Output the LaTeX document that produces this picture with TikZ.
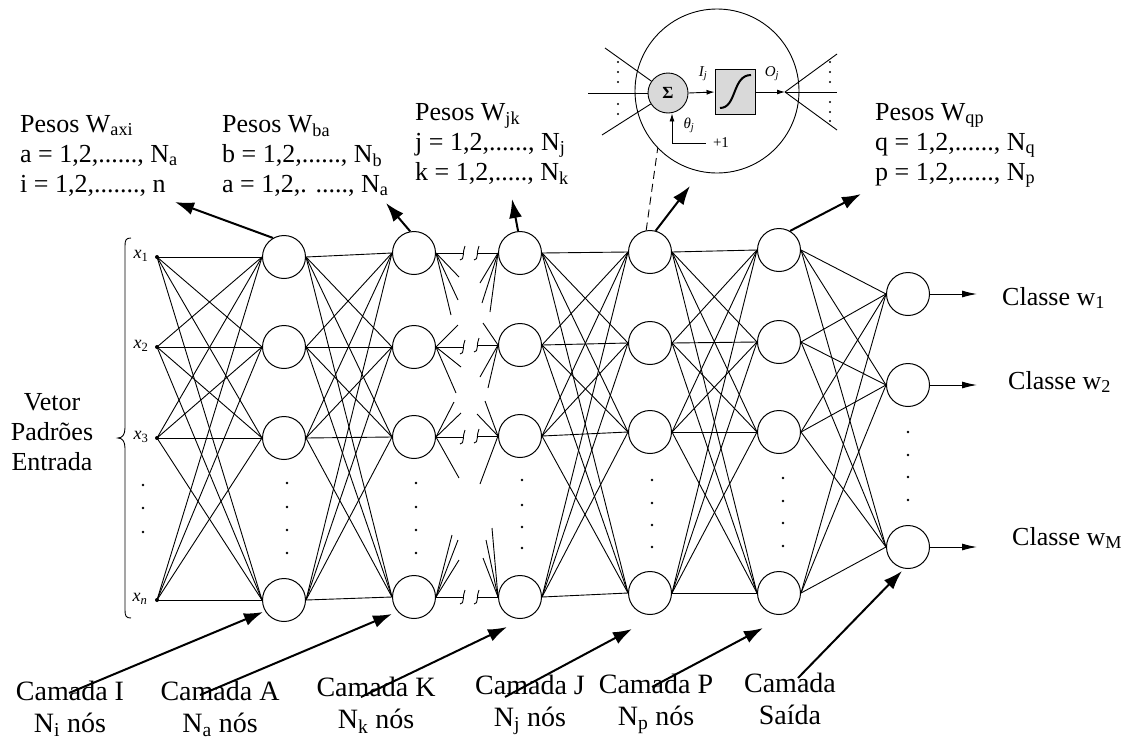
\documentclass[tikz,border=0pt]{standalone}
\usepackage{fontspec}
\setmainfont{Liberation Serif}
\usetikzlibrary{arrows.meta}
\begin{document}
\begin{tikzpicture}[x=1pt,y=-1pt,
  neuron/.style={circle,draw,line width=1pt,minimum size=43pt,inner sep=0pt},
  inpt/.style={circle,fill,inner sep=0pt,minimum size=4pt},
  net/.style={line width=0.9pt},
  dotm/.style={circle,fill,inner sep=0pt,minimum size=2.6pt},
  big/.style={line width=2pt,-{Latex[length=19pt,width=13pt]}},
  outarr/.style={line width=1pt,-{Latex[length=15pt,width=7pt]}},
  small/.style={line width=0.9pt,-{Latex[length=8pt,width=5pt]}},
  txt/.style={font=\fontsize{26}{30}\selectfont,inner sep=0pt},
  xlab/.style={font=\fontsize{18}{18}\selectfont\itshape,inner sep=0pt},
  ilab/.style={font=\fontsize{15}{15}\selectfont\itshape,inner sep=0pt},
  blk/.style={txt,anchor=north west,align=left},
  cam/.style={font=\fontsize{28}{32}\selectfont,inner sep=0pt,align=center},
]
\useasboundingbox (0,0) rectangle (1127,742);

% ---------- input points ----------
\foreach \n/\y in {1/257,2/347,3/438,4/600}
  \node[inpt] (I\n) at (157,\y) {};
\node[xlab] at (141,256) {x\textsubscript{\upshape 1}};
\node[xlab] at (141,346) {x\textsubscript{\upshape 2}};
\node[xlab] at (141,437) {x\textsubscript{\upshape 3}};
\node[xlab] at (140,599) {x\textsubscript{n}};
\foreach \y in {485,508,532} \node[dotm] at (143,\y) {};

% ---------- layers ----------
\foreach \n/\y in {1/257,2/347,3/438,4/600} \node[neuron] (A\n) at (284,\y) {};
\foreach \n/\y in {1/253,2/347,3/437,4/597} \node[neuron] (B\n) at (414,\y) {};
\foreach \n/\y in {1/253,2/345,3/436,4/597} \node[neuron] (C\n) at (520,\y) {};
\foreach \n/\y in {1/252,2/343,3/432,4/593} \node[neuron] (D\n) at (650,\y) {};
\foreach \n/\y in {1/250,2/342,3/432,4/593} \node[neuron] (E\n) at (779,\y) {};
\foreach \n/\y in {1/294,2/385,3/547} \node[neuron] (O\n) at (908,\y) {};

\foreach \y in {483,507,530,553} {\node[dotm] at (287,\y) {}; \node[dotm] at (416,\y) {};}
\foreach \y in {480,505,527,548} \node[dotm] at (522,\y) {};
\foreach \y in {480,503,525,547} \node[dotm] at (652,\y) {};
\foreach \y in {478,501,523,546} \node[dotm] at (783,\y) {};
\foreach \y in {432,455,477,500} \node[dotm] at (908,\y) {};

% ---------- full connections ----------
\foreach \i in {1,...,4} \foreach \j in {1,...,4} {
  \draw[net] (I\i.center) -- (A\j.west);
  \draw[net] (A\i.east) -- (B\j.west);
  \draw[net] (C\i.east) -- (D\j.west);
  \draw[net] (D\i.east) -- (E\j.west);
}
\foreach \i in {1,...,4} \foreach \j in {1,2,3} \draw[net] (E\i.east) -- (O\j.west);

% ---------- broken connections B -> C ----------
\foreach \n in {1,...,4} {
  \draw[net] (B\n.east) -- ++(27,0) coordinate (bl\n);
  \draw[net] (bl\n) ++(-3,7) .. controls ++(5,0) and ++(-3,6) .. ++(5,-14);
  \draw[net] (C\n.west) -- ++(-21,0) coordinate (br\n);
  \draw[net] (br\n) ++(-3,7) .. controls ++(5,0) and ++(-3,6) .. ++(5,-14);
}
\foreach \a/\b in {23/24,22/47,15/62} \draw[net] (B1.east) -- ++(\a,\b);
\foreach \a/\b in {22/-22,25/20,20/46} \draw[net] (B2.east) -- ++(\a,\b);
\foreach \a/\b in {18/-35,25/-24,23/41} \draw[net] (B3.east) -- ++(\a,\b);
\foreach \a/\b in {16/-62,22/-57,23/-37} \draw[net] (B4.east) -- ++(\a,\b);
\foreach \a/\b in {-18/30,-16/50,-8/59} \draw[net] (C1.west) -- ++(\a,\b);
\foreach \a/\b in {-15/-22,-18/32,-10/43} \draw[net] (C2.west) -- ++(\a,\b);
\foreach \a/\b in {-13/-35,-21/-22,-18/48} \draw[net] (C3.west) -- ++(\a,\b);
\foreach \a/\b in {-6/-69,-12/-57,-15/-39} \draw[net] (C4.west) -- ++(\a,\b);

% ---------- outputs ----------
\foreach \n in {1,2,3} \draw[outarr] (O\n.east) -- ++(47,0);
\node[txt,anchor=west] (cl1) at (1002,298) {Classe w\textsubscript{1}};
\node[txt,anchor=west] (cl2) at (1008,382) {Classe w\textsubscript{2}};
\node[txt,anchor=west] (cl3) at (1012,538) {Classe w\textsubscript{M}};

% ---------- brace and input label ----------
\draw[line width=0.9pt] (131,238) .. controls (126,238) and (125,240) .. (125,246) -- (125,428)
  .. controls (125,435) and (122,438) .. (118,438) .. controls (122,438) and (125,441) .. (125,448)
  -- (125,610) .. controls (125,616) and (126,618) .. (131,618);
\node[txt,align=center] (vet) at (52,432) {Vetor\\Padrões\\Entrada};

% ---------- weight labels ----------
\node[blk] (w1) at (20,115) {Pesos W\textsubscript{axi}\\a = 1,2,......, N\textsubscript{a}\\i = 1,2,......., n};
\node[blk] (w2) at (222,115) {Pesos W\textsubscript{ba}\\b = 1,2,......, N\textsubscript{b}\\a = 1,2,. ....., N\textsubscript{a}};
\node[blk] (w3) at (415,103) {Pesos W\textsubscript{jk}\\j = 1,2,......, N\textsubscript{j}\\k = 1,2,....., N\textsubscript{k}};
\node[blk] (w4) at (875,103) {Pesos W\textsubscript{qp}\\q = 1,2,......, N\textsubscript{q}\\p = 1,2,......, N\textsubscript{p}};

\coordinate (t1) at (175,202);
\coordinate (t2) at (386,203);
\coordinate (t3) at (512,199);
\coordinate (t4) at (690,186);
\coordinate (t5) at (861,194);
\draw[big] (A1.120) -- (t1);
\draw[big] (B1.100) -- (t2);
\draw[big] (C1.95) -- (t3);
\draw[big] (D1.75) -- (t4);
\draw[big] (E1.60) -- (t5);

% ---------- layer labels ----------
\node[cam] (cI) at (70,709) {Camada I\\N\textsubscript{i} nós};
\node[cam] (cA) at (220,709) {Camada A\\N\textsubscript{a} nós};
\node[cam] (cK) at (376,705) {Camada K\\N\textsubscript{k} nós};
\node[cam] (cJ) at (530,705) {Camada J\\N\textsubscript{j} nós};
\node[cam] (cP) at (656,704) {Camada P\\N\textsubscript{p} nós};
\node[cam] (cS) at (790,699) {Camada\\Saída};

\coordinate (sI) at (69,693);  \coordinate (eI) at (263,612);
\coordinate (sA) at (200,695); \coordinate (eA) at (392,614);
\coordinate (sK) at (361,697); \coordinate (eK) at (507,627);
\coordinate (sJ) at (505,697); \coordinate (eJ) at (632,629);
\coordinate (sP) at (652,687); \coordinate (eP) at (763,628);
\coordinate (sS) at (798,678); \coordinate (eS) at (902,571);
\foreach \k in {I,A,K,J,P,S} \draw[big] (s\k) -- (e\k);

% ---------- inset neuron ----------
\node[circle,draw,line width=0.9pt,minimum size=164pt,inner sep=0pt] (inset) at (717,91) {};
\draw[line width=0.9pt,dashed,dash pattern=on 8pt off 5pt] (D1.100) -- (inset.-136);
\node[circle,draw,fill=gray!30,minimum size=40pt,inner sep=0pt,line width=0.9pt] (S) at (668,93)
  {\fontsize{17}{17}\selectfont\bfseries Σ};
\node[draw,fill=gray!30,minimum width=40pt,minimum height=45pt,inner sep=0pt,line width=0.9pt] (F) at (735,92) {};
\draw[line width=2pt] (720,108) .. controls (737,108) and (732,75) .. (751,75);
\coordinate (L1) at (605,48);
\coordinate (L2) at (588,93);
\coordinate (L3) at (602,135);
\foreach \k in {1,2,3} \draw[net] (L\k) -- (S);
\foreach \y in {62,72,82,104,114} \node[dotm,minimum size=2.2pt] at (618,\y) {};
\draw[small] (S.east) -- (F.west);
\node[ilab] (Ij) at (703,74) {I\textsubscript{j}};
\coordinate (R0) at (785,92);
\draw[small] (F.east) -- (R0);
\node[ilab] (Oj) at (772,74) {O\textsubscript{j}};
\coordinate (R1) at (837,54);
\coordinate (R2) at (837,92);
\coordinate (R3) at (837,130);
\foreach \k in {1,2,3} \draw[net] (R0) -- (R\k);
\foreach \y in {62,72,82,102,112,121} \node[dotm,minimum size=2.2pt] at (830,\y) {};
\coordinate (T0) at (672,143);
\draw[small] (T0) -- (T0 |- S.south);
\draw[net] (T0) -- (706,143);
\node[font=\fontsize{15}{15}\selectfont,inner sep=0pt] (p1) at (721,143) {+1};
\node[ilab] (th) at (689,125) {θ\textsubscript{j}};
\end{tikzpicture}
\end{document}
